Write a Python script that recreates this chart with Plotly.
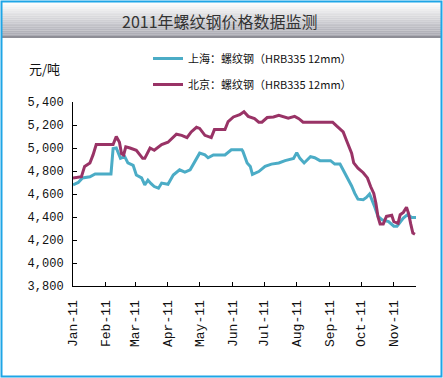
import plotly.graph_objects as go

# ---- data ----
sh_dates = ["2011-01-01","2011-01-06","2011-01-10","2011-01-17","2011-01-22","2011-02-06","2011-02-08",
            "2011-02-11","2011-02-15","2011-02-19","2011-02-22","2011-02-27","2011-03-02","2011-03-07",
            "2011-03-10","2011-03-13","2011-03-16","2011-03-19","2011-03-23","2011-03-26","2011-04-01",
            "2011-04-06","2011-04-12","2011-04-17","2011-04-22","2011-04-26","2011-05-01","2011-05-06",
            "2011-05-09","2011-05-14","2011-05-25","2011-05-31","2011-06-10","2011-06-11","2011-06-15",
            "2011-06-18","2011-06-20","2011-06-26","2011-07-02","2011-07-08","2011-07-15","2011-07-21",
            "2011-07-26","2011-07-29","2011-08-01","2011-08-04","2011-08-08","2011-08-14","2011-08-18",
            "2011-08-23","2011-09-02","2011-09-06","2011-09-11","2011-09-14","2011-09-19","2011-09-22",
            "2011-09-25","2011-09-28","2011-10-03","2011-10-06","2011-10-09","2011-10-12","2011-10-14",
            "2011-10-17","2011-10-21","2011-10-27","2011-11-01","2011-11-04","2011-11-07","2011-11-10",
            "2011-11-14","2011-11-18","2011-11-22"]
sh_values = [4680,4700,4740,4750,4775,4775,4995,
             5000,4910,4925,4870,4850,4765,4740,
             4680,4720,4690,4665,4650,4695,4685,
             4765,4810,4790,4810,4870,4955,4940,
             4915,4940,4940,4985,4985,4970,4870,
             4840,4770,4795,4840,4860,4870,4890,
             4905,4910,4960,4910,4870,4925,4915,
             4890,4890,4860,4860,4810,4720,4670,
             4605,4555,4550,4570,4600,4540,4485,
             4405,4375,4360,4320,4320,4360,4390,
             4420,4395,4395]

bj_dates = ["2011-01-01","2011-01-09","2011-01-12","2011-01-17","2011-01-20","2011-01-23","2011-02-08",
            "2011-02-11","2011-02-14","2011-02-16","2011-02-18","2011-02-20","2011-02-24","2011-03-02",
            "2011-03-08","2011-03-10","2011-03-15","2011-03-19","2011-03-26","2011-04-01","2011-04-09",
            "2011-04-14","2011-04-19","2011-04-23","2011-04-28","2011-05-01","2011-05-06","2011-05-12",
            "2011-05-15","2011-05-25","2011-05-28","2011-06-02","2011-06-08","2011-06-12","2011-06-16",
            "2011-06-22","2011-06-26","2011-06-29","2011-07-04","2011-07-10","2011-07-15","2011-07-19",
            "2011-07-24","2011-07-30","2011-08-03","2011-08-07","2011-09-04","2011-09-08","2011-09-14",
            "2011-09-17","2011-09-20","2011-09-22","2011-09-24","2011-09-28","2011-10-03","2011-10-07",
            "2011-10-10","2011-10-13","2011-10-15","2011-10-17","2011-10-19","2011-10-22","2011-10-25",
            "2011-10-30","2011-11-01","2011-11-05","2011-11-07","2011-11-10","2011-11-13","2011-11-15",
            "2011-11-17","2011-11-19","2011-11-21"]
bj_values = [4740,4750,4840,4870,4940,5030,5030,
             5100,5050,4950,4940,5010,5000,4980,
             4910,4910,5000,4980,5030,5050,5120,
             5110,5090,5140,5180,5170,5110,5090,
             5160,5160,5230,5270,5290,5315,5275,
             5255,5225,5225,5265,5270,5285,5275,
             5260,5275,5255,5225,5225,5190,5140,
             5070,5000,4955,4870,4825,4785,4740,
             4665,4605,4520,4400,4340,4340,4405,
             4415,4360,4345,4420,4440,4485,4430,
             4340,4260,4250]

series_names = ["上海：螺纹钢（HRB335 12mm）", "北京：螺纹钢（HRB335 12mm）"]
series_colors = ["#4BACC6", "#993366"]
y_ticks = [3800, 4000, 4200, 4400, 4600, 4800, 5000, 5200, 5400]
title_text = "2011年螺纹钢价格数据监测"
unit_text = "元/吨"

# ---- figure ----
W, H = 443, 378
L, R, T, B = 73, 27, 102, 92
pw, ph = W - L - R, H - T - B

def px_x(p):
    return (p - L) / pw

def px_y(p):
    return (H - B - p) / ph

fig = go.Figure()
fig.add_trace(go.Scatter(x=sh_dates, y=sh_values, mode="lines", name=series_names[0],
                         line=dict(color=series_colors[0], width=3), legendgroup="a"))
fig.add_trace(go.Scatter(x=bj_dates, y=bj_values, mode="lines", name=series_names[1],
                         line=dict(color=series_colors[1], width=3), legendgroup="b"))

shapes = []
# gradient title band
n = 18
top, bot = 3, 36
c0, c1 = (252, 252, 252), (170, 170, 178)
for i in range(n):
    y0 = top + (bot - top) * i / n
    y1 = top + (bot - top) * (i + 1) / n
    f = i / (n - 1)
    c = tuple(int(c0[k] + (c1[k] - c0[k]) * f) for k in range(3))
    shapes.append(dict(type="rect", xref="paper", yref="paper", layer="below",
                       x0=px_x(2), x1=px_x(441), y0=px_y(y1), y1=px_y(y0),
                       fillcolor="rgb(%d,%d,%d)" % c, line=dict(width=0)))
shapes.append(dict(type="rect", xref="paper", yref="paper", layer="below",
                   x0=px_x(2), x1=px_x(441), y0=px_y(38), y1=px_y(36),
                   fillcolor="#8e8e96", line=dict(width=0)))
# outer border
shapes.append(dict(type="rect", xref="paper", yref="paper", layer="above",
                   x0=px_x(1.5), x1=px_x(441.5), y0=px_y(376.5), y1=px_y(1.5),
                   line=dict(color="#1FA5E6", width=2)))

fig.update_layout(
    width=W, height=H,
    margin=dict(l=L, r=R, t=T, b=B),
    paper_bgcolor="white", plot_bgcolor="white",
    shapes=shapes,
    showlegend=True,
    legend=dict(x=px_x(148), y=px_y(44), xanchor="left", yanchor="top",
                bgcolor="rgba(0,0,0,0)", font=dict(family="Noto Sans CJK SC", size=11, color="#111"),
                tracegroupgap=7, itemwidth=30),
    annotations=[
        dict(text=title_text, xref="paper", yref="paper", x=px_x(220), y=px_y(21),
             xanchor="center", yanchor="middle", showarrow=False,
             font=dict(family="Noto Sans CJK SC", size=16, color="#333333")),
        dict(text=unit_text, xref="paper", yref="paper", x=px_x(44), y=px_y(68),
             xanchor="center", yanchor="middle", showarrow=False,
             font=dict(family="Noto Sans CJK SC", size=13, color="#111")),
    ],
    xaxis=dict(type="date", range=["2011-01-01", "2011-11-22"], automargin=False,
               tickformat="%b-%y", dtick="M1", tick0="2011-01-01",
               tickangle=-90, ticks="inside", ticklen=4, tickcolor="black",
               showline=True, linecolor="black", linewidth=1, showgrid=False, zeroline=False,
               ticklabelstandoff=8,
               tickfont=dict(family="Liberation Mono", size=13, color="#111")),
    yaxis=dict(range=[3800, 5400], tickvals=y_ticks, tickformat=",d", automargin=False,
               ticks="inside", ticklen=4, tickcolor="black",
               showline=True, linecolor="black", linewidth=1, showgrid=False, zeroline=False,
               ticklabelstandoff=6,
               tickfont=dict(family="Liberation Mono", size=12, color="#111")),
)

fig.write_html("out.html",
               config={"displayModeBar": False, "responsive": False},
               post_script="document.body.style.margin='0';document.body.style.padding='0';"
                           "document.body.style.overflow='hidden';"
                           "document.documentElement.style.overflow='hidden';")
